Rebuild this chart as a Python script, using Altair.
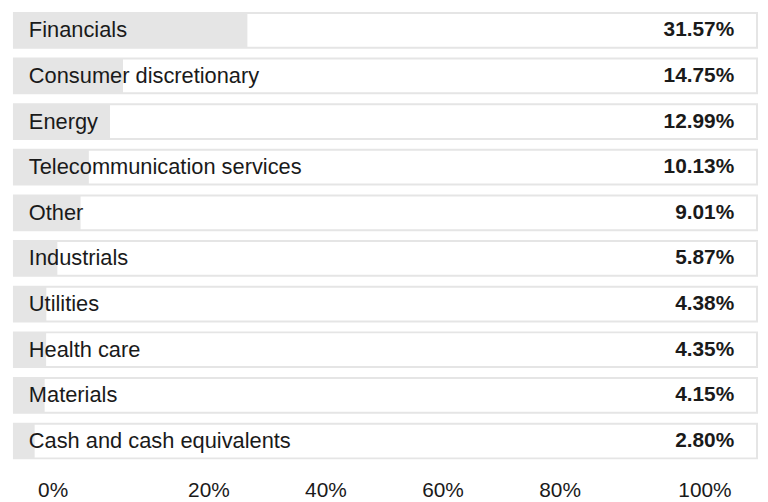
import altair as alt
import pandas as pd

sectors = ["Financials", "Consumer discretionary", "Energy", "Telecommunication services",
           "Other", "Industrials", "Utilities", "Health care", "Materials",
           "Cash and cash equivalents"]
weights = [31.57, 14.75, 12.99, 10.13, 9.01, 5.87, 4.38, 4.35, 4.15, 2.80]
tick_values = [0, 20, 40, 60, 80, 100]
tick_positions = [39, 196, 314, 432, 550, 696]

df = pd.DataFrame({"sector": sectors, "weight": weights})
df["label"] = [f"{w:.2f}%" for w in weights]
ticks_df = pd.DataFrame({"tick": tick_values})

FONT = "Liberation Sans, Arial, Helvetica, sans-serif"
GRAY = "#e5e5e5"

y_enc = alt.Y("sector:N", sort=sectors, axis=None,
              scale=alt.Scale(paddingInner=0.239, paddingOuter=0))
x_scale = alt.Scale(domain=[0, 100.5], nice=False)

base = alt.Chart(df)

rows = base.mark_rect(fill="white", stroke=GRAY, strokeWidth=2).encode(
    x=alt.value(0), x2=alt.value("width"), y=y_enc)

bars = base.mark_rect(fill=GRAY).encode(
    x=alt.X("zero:Q", scale=x_scale, axis=None),
    x2=alt.X2("weight:Q"),
    y=y_enc,
).transform_calculate(zero="0")

names = base.mark_text(align="left", baseline="middle", font=FONT, fontSize=22,
                       color="#1a1a1a", dx=15).encode(
    x=alt.value(0), y=y_enc, text="sector:N")

values = base.mark_text(align="right", baseline="middle", font=FONT, fontSize=21,
                        fontWeight="bold", color="#1a1a1a", dx=-23).encode(
    x=alt.value("width"), y=y_enc, text="label:N")

axis_layer = alt.Chart(ticks_df).mark_point(opacity=0).encode(
    x=alt.X("tick:Q",
            scale=alt.Scale(domain=tick_values, range=tick_positions, nice=False, zero=False),
            axis=alt.Axis(values=tick_values, labelExpr="datum.value + '%'", orient="bottom",
                          domain=False, ticks=False, tickSize=0, grid=False, title=None,
                          labelFontSize=21, labelFont=FONT, labelColor="#1a1a1a",
                          labelPadding=21, labelFlush=False, labelOverlap=False)),
    y=alt.value(0),
)

chart = alt.layer(rows, bars, names, values, axis_layer).resolve_scale(
    x="independent"
).properties(
    width=749, height=449,
    padding={"left": 5, "top": 0, "right": 2, "bottom": 0},
).configure_view(stroke=None)

chart.save("out.html", embed_options={"renderer": "svg", "actions": False})
